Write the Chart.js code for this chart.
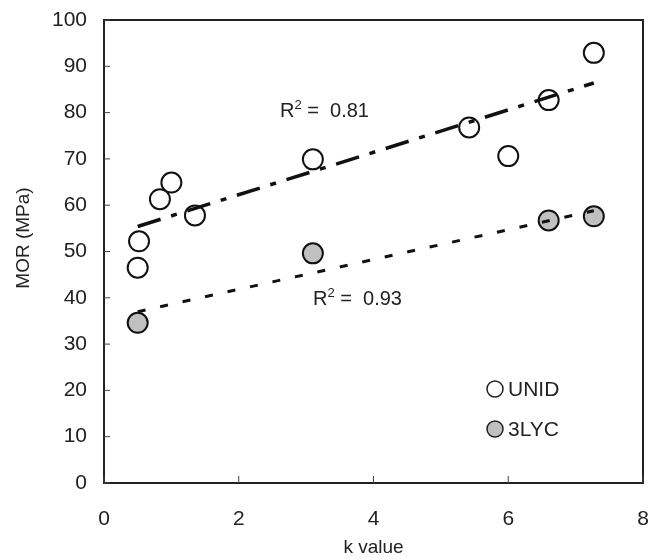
<!DOCTYPE html>
<html>
<head>
<meta charset="utf-8">
<script src="https://cdn.jsdelivr.net/npm/chart.js@4.4.1/dist/chart.umd.min.js"></script>
<style>
  html, body { margin: 0; padding: 0; background: #fff; }
  #wrap { width: 661px; height: 559px; }
</style>
</head>
<body>
<div id="wrap"><canvas id="myChart"></canvas></div>
<script>
const unidK = [0.5, 0.52, 0.83, 1.0, 1.35, 3.1, 5.42, 6.0, 6.6, 7.27];
const unidMor = [46.5, 52.2, 61.3, 64.9, 57.8, 69.9, 76.8, 70.6, 82.7, 92.9];
const lycK = [0.5, 3.1, 6.6, 7.27];
const lycMor = [34.6, 49.6, 56.7, 57.6];
// trend lines (ends)
const unidTrendK = [0.5, 7.27];
const unidTrendMor = [55.4, 86.4];
const lycTrendK = [0.5, 7.27];
const lycTrendMor = [37.0, 58.8];
const xTicks = [0, 2, 4, 6, 8];
const yTicks = [0, 10, 20, 30, 40, 50, 60, 70, 80, 90, 100];

const pts = (xs, ys) => xs.map((x, i) => ({x: x, y: ys[i]}));
const fnt = 'Liberation Sans, Arial, sans-serif';
const gray = '#c0c0c0';
const ink = '#222';

const extras = {
    id: 'extras',
    afterDraw(chart) {
        const c = chart.ctx, a = chart.chartArea;
        const xs = chart.scales.x, ys = chart.scales.y;
        c.save();
        // frame
        c.strokeStyle = ink;
        c.lineWidth = 2;
        c.strokeRect(a.left, a.top, a.right - a.left, a.bottom - a.top);
        // inward ticks
        c.lineWidth = 1;
        c.strokeStyle = '#444';
        yTicks.forEach(v => {
            const y = ys.getPixelForValue(v);
            c.beginPath(); c.moveTo(a.left, y); c.lineTo(a.left + 6, y); c.stroke();
        });
        xTicks.forEach(v => {
            const x = xs.getPixelForValue(v);
            c.beginPath(); c.moveTo(x, a.bottom); c.lineTo(x, a.bottom - 7); c.stroke();
        });
        // y title
        c.fillStyle = ink;
        c.save();
        c.translate(24, 238);
        c.rotate(-Math.PI / 2);
        c.textAlign = 'center';
        c.textBaseline = 'middle';
        c.font = '19px ' + fnt;
        c.fillText('MOR (MPa)', 0, 0);
        c.restore();
        // R2 labels
        c.textBaseline = 'middle';
        c.textAlign = 'left';
        const r2 = (txt, px, py) => {
            c.font = '20px ' + fnt;
            c.fillText('R', px, py);
            let w = c.measureText('R').width;
            c.font = '13px ' + fnt;
            c.fillText('2', px + w, py - 6);
            w += c.measureText('2').width;
            c.font = '20px ' + fnt;
            c.fillText(' =  ' + txt, px + w, py);
        };
        r2('0.81', 280, 111);
        r2('0.93', 313, 299);
        // legend
        const leg = [['UNID', '#fff', 389], ['3LYC', gray, 429]];
        leg.forEach(l => {
            c.beginPath();
            c.arc(495, l[2], 8, 0, Math.PI * 2);
            c.fillStyle = l[1]; c.fill();
            c.lineWidth = 1.5; c.strokeStyle = ink; c.stroke();
            c.fillStyle = ink;
            c.font = '21px ' + fnt;
            c.fillText(l[0], 508, l[2] + 1);
        });
        c.restore();
    }
};

new Chart(document.getElementById('myChart'), {
    type: 'scatter',
    data: {
        datasets: [
            {
                label: 'UNID trend',
                type: 'line',
                data: pts(unidTrendK, unidTrendMor),
                borderColor: '#111',
                borderWidth: 3.5,
                borderDash: [24, 11, 6, 11],
                pointRadius: 0,
                fill: false,
                order: 0
            },
            {
                label: '3LYC trend',
                type: 'line',
                data: pts(lycTrendK, lycTrendMor),
                borderColor: '#111',
                borderWidth: 3,
                borderDash: [8, 15],
                pointRadius: 0,
                fill: false,
                order: 0
            },
            {
                label: 'UNID',
                data: pts(unidK, unidMor),
                backgroundColor: '#fff',
                borderColor: '#111',
                borderWidth: 2,
                pointRadius: 10,
                order: 1
            },
            {
                label: '3LYC',
                data: pts(lycK, lycMor),
                backgroundColor: gray,
                borderColor: '#111',
                borderWidth: 2,
                pointRadius: 10,
                order: 1
            }
        ]
    },
    options: {
        responsive: true,
        maintainAspectRatio: false,
        animation: false,
        layout: { padding: { top: 20, right: 18, left: 0, bottom: 0 } },
        scales: {
            x: {
                type: 'linear',
                min: 0,
                max: 8,
                afterBuildTicks: s => { s.ticks = xTicks.map(v => ({value: v})); },
                afterFit: s => { s.height = 76; s.paddingRight = 0; s.paddingLeft = 0; },
                grid: { display: false, drawTicks: false },
                border: { display: false },
                ticks: {
                    color: ink,
                    padding: 24,
                    font: { family: fnt, size: 21 }
                },
                title: {
                    display: true,
                    text: 'k value',
                    color: ink,
                    padding: { top: 0, bottom: 0 },
                    font: { family: fnt, size: 19 }
                }
            },
            y: {
                type: 'linear',
                min: 0,
                max: 100,
                afterBuildTicks: s => { s.ticks = yTicks.map(v => ({value: v})); },
                afterFit: s => { s.width = 104; s.paddingTop = 0; s.paddingBottom = 0; },
                grid: { display: false, drawTicks: false },
                border: { display: false },
                ticks: {
                    color: ink,
                    padding: 17,
                    font: { family: fnt, size: 21 }
                }
            }
        },
        plugins: {
            legend: { display: false },
            tooltip: { enabled: false }
        }
    },
    plugins: [extras]
});
</script>
</body>
</html>
